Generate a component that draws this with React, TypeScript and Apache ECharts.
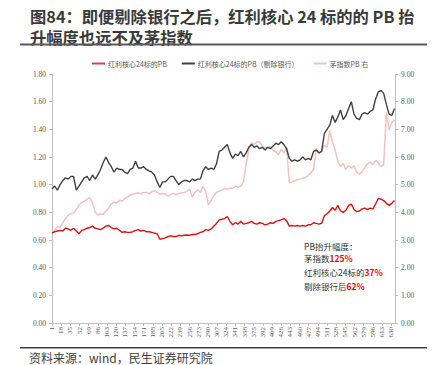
import React, { useEffect, useRef } from "react";
import * as echarts from "echarts";

// Trading-day counter labels (1 .. 637)
const DAY_COUNT = 637;
const dayLabels: string[] = Array.from({ length: DAY_COUNT }, (_, i) => String(i + 1));
// Samples were read every 5 trading days
const SAMPLE_STEP = 5;

// 红利核心24标的PB (left axis)
const redCorePB = [
  0.65, 0.66, 0.665, 0.67, 0.665, 0.685, 0.68, 0.67, 0.685, 0.665,
  0.645, 0.67, 0.675, 0.685, 0.69, 0.70, 0.685, 0.68, 0.675, 0.685,
  0.70, 0.705, 0.69, 0.68, 0.685, 0.67, 0.655, 0.66, 0.655, 0.655,
  0.66, 0.67, 0.675, 0.665, 0.67, 0.66, 0.66, 0.655, 0.65, 0.645,
  0.605, 0.61, 0.615, 0.625, 0.63, 0.625, 0.625, 0.634, 0.63, 0.634,
  0.636, 0.634, 0.64, 0.64, 0.645, 0.655, 0.66, 0.675, 0.67, 0.68,
  0.70, 0.72, 0.745, 0.75, 0.755, 0.77, 0.735, 0.71, 0.725, 0.715,
  0.735, 0.715, 0.72, 0.725, 0.735, 0.72, 0.715, 0.725, 0.72, 0.71,
  0.715, 0.725, 0.72, 0.735, 0.74, 0.745, 0.755, 0.74, 0.70, 0.705,
  0.70, 0.705, 0.70, 0.705, 0.70, 0.71, 0.71, 0.725, 0.72, 0.715,
  0.72, 0.775, 0.79, 0.81, 0.835, 0.815, 0.85, 0.81, 0.80, 0.815,
  0.85, 0.86, 0.82, 0.805, 0.81, 0.825, 0.83, 0.82, 0.83, 0.825,
  0.86, 0.90, 0.895, 0.885, 0.865, 0.85, 0.865, 0.885,
];

// 红利核心24标的PB（剔除银行） (left axis)
const exBankPB = [
  0.97, 0.99, 0.96, 1.00, 1.03, 1.05, 1.04, 1.06, 1.06, 0.96,
  0.99, 1.02, 1.05, 1.06, 1.03, 1.07, 1.04, 1.07, 1.11, 1.16,
  1.20, 1.16, 1.13, 1.09, 1.12, 1.11, 1.11, 1.09, 1.08, 1.11,
  1.12, 1.17, 1.12, 1.12, 1.13, 1.11, 1.10, 1.09, 1.07, 1.02,
  0.98, 1.02, 1.02, 1.04, 1.06, 1.06, 1.03, 1.00, 1.02, 1.03,
  1.03, 1.02, 1.04, 1.03, 1.04, 1.04, 1.10, 1.13, 1.11, 1.12,
  1.11, 1.15, 1.24, 1.25, 1.27, 1.29, 1.23, 1.19, 1.22, 1.21,
  1.24, 1.20, 1.23, 1.27, 1.29, 1.27, 1.28, 1.26, 1.27, 1.25,
  1.27, 1.26, 1.28, 1.30, 1.29, 1.31, 1.29, 1.26, 1.19, 1.17,
  1.18, 1.17, 1.18, 1.20, 1.18, 1.19, 1.18, 1.24, 1.25, 1.23,
  1.24, 1.37, 1.40, 1.43, 1.50, 1.45, 1.49, 1.54, 1.47, 1.50,
  1.55, 1.60, 1.51, 1.48, 1.47, 1.51, 1.52, 1.51, 1.53, 1.54,
  1.62, 1.67, 1.68, 1.66, 1.58, 1.51, 1.50, 1.55,
];

// 茅指数PB (right axis)
const maoIndexPB = [
  3.24, 3.35, 3.48, 3.45, 3.62, 3.78, 3.90, 3.95, 3.98, 4.10,
  4.26, 4.35, 4.40, 4.48, 4.54, 4.35, 4.00, 3.90, 3.95, 3.92,
  4.05, 4.15, 4.30, 4.36, 4.34, 4.44, 4.40, 4.50, 4.55, 4.62,
  4.66, 4.68, 4.70, 4.68, 4.72, 4.72, 4.68, 4.75, 4.78, 4.72,
  4.67, 4.68, 4.66, 4.58, 4.64, 4.68, 4.64, 4.68, 4.70, 4.72,
  4.75, 4.85, 4.55, 4.72, 4.80, 4.72, 4.94, 4.75, 4.26, 4.42,
  4.60, 4.72, 4.76, 4.80, 4.85, 4.84, 4.88, 4.87, 4.95, 4.90,
  4.95, 5.10, 5.75, 6.28, 6.52, 6.45, 6.55, 6.55, 6.38, 6.32,
  6.35, 6.38, 6.25, 6.19, 6.08, 6.28, 6.15, 6.35, 5.08, 5.10,
  5.14, 5.18, 5.20, 5.23, 5.27, 5.33, 5.43, 5.55, 6.30, 6.12,
  6.20, 6.42, 6.35, 6.95, 6.55, 6.25, 5.85, 5.65, 5.77, 5.55,
  5.70, 5.60, 5.68, 5.45, 5.38, 5.48, 5.62, 5.75, 5.82, 5.72,
  5.88, 5.78, 5.66, 5.72, 7.62, 6.98, 7.25, 7.34,
];

const seriesNames = ["红利核心24标的PB", "红利核心24标的PB（剔除银行）", "茅指数PB 右"];
const titleLines = [
  "图84：即便剔除银行之后，红利核心 24 标的的 PB 抬",
  "升幅度也远不及茅指数",
];
const noteHeader = "PB抬升幅度：";
const noteLabels = ["茅指数", "红利核心24标的", "剔除银行后"];
const notePercents = ["125%", "37%", "62%"];
const sourceText = "资料来源：wind，民生证券研究院";

const toPairs = (vals: number[]) => vals.map((v, k) => [k * SAMPLE_STEP, v]);

const AXIS_FONT = "'Liberation Serif', 'Noto Sans CJK SC', serif";
const CJK_FONT = "'Noto Sans CJK SC', sans-serif";

export default function App() {
  const ref = useRef<HTMLDivElement>(null);
  useEffect(() => {
    if (!ref.current) return;
    const chart = echarts.init(ref.current, undefined, { renderer: "svg" });
    const noteTexts = noteLabels.map((lab, i) => ({
      type: "text",
      left: 304,
      top: 254 + i * 14,
      style: {
        text: `{a|${lab}}{b|${notePercents[i]}}`,
        rich: {
          a: { fontSize: 8.5, fill: "#333333", fontFamily: CJK_FONT, lineHeight: 11 },
          b: { fontSize: 8.5, fill: "#ff0000", fontWeight: "bold", fontFamily: CJK_FONT, lineHeight: 11 },
        },
      },
    }));
    chart.setOption({
      animation: false,
      backgroundColor: "#ffffff",
      grid: { left: 52, right: 41, top: 74, bottom: 42, containLabel: false },
      legend: {
        top: 55,
        left: 87,
        itemWidth: 13,
        itemHeight: 2,
        itemGap: 15,
        icon: "rect",
        textStyle: { fontSize: 7, color: "#595959", fontFamily: CJK_FONT, padding: [0, 0, 0, -2] },
        data: seriesNames,
      },
      xAxis: {
        type: "category",
        data: dayLabels,
        boundaryGap: false,
        axisLine: { lineStyle: { color: "#bfbfbf", width: 1 } },
        axisTick: { show: true, interval: 16, length: 3, lineStyle: { color: "#bfbfbf" } },
        axisLabel: {
          interval: 16,
          rotate: 90,
          fontSize: 7,
          color: "#595959",
          fontFamily: AXIS_FONT,
          margin: 4,
        },
        splitLine: { show: false },
      },
      yAxis: [
        {
          type: "value",
          min: 0,
          max: 1.8,
          interval: 0.2,
          axisLine: { show: true, lineStyle: { color: "#bfbfbf" } },
          axisTick: { show: true, length: 3, lineStyle: { color: "#bfbfbf" } },
          axisLabel: {
            fontSize: 7.5,
            color: "#595959",
            fontFamily: AXIS_FONT,
            margin: 6,
            formatter: (v: number) => v.toFixed(2),
          },
          splitLine: { show: false },
        },
        {
          type: "value",
          min: 0,
          max: 9,
          interval: 1,
          position: "right",
          axisLine: { show: true, lineStyle: { color: "#bfbfbf" } },
          axisTick: { show: true, length: 3, lineStyle: { color: "#bfbfbf" } },
          axisLabel: {
            fontSize: 7.5,
            color: "#595959",
            fontFamily: AXIS_FONT,
            margin: 6,
            formatter: (v: number) => v.toFixed(2),
          },
          splitLine: { show: false },
        },
      ],
      series: [
        {
          name: seriesNames[2],
          type: "line",
          yAxisIndex: 1,
          data: toPairs(maoIndexPB),
          showSymbol: false,
          symbol: "none",
          z: 1,
          lineStyle: { color: "#f2c2c0", width: 1.5 },
          itemStyle: { color: "#f2c2c0" },
        },
        {
          name: seriesNames[1],
          type: "line",
          yAxisIndex: 0,
          data: toPairs(exBankPB),
          showSymbol: false,
          symbol: "none",
          z: 2,
          lineStyle: { color: "#404040", width: 1.4 },
          itemStyle: { color: "#404040" },
        },
        {
          name: seriesNames[0],
          type: "line",
          yAxisIndex: 0,
          data: toPairs(redCorePB),
          showSymbol: false,
          symbol: "none",
          z: 3,
          lineStyle: { color: "#e01010", width: 1.4 },
          itemStyle: { color: "#e04040" },
        },
      ],
      graphic: [
        {
          type: "text",
          left: 30,
          top: 6,
          style: {
            text: titleLines.join("\n"),
            fontSize: 16.3,
            lineHeight: 20.5,
            fontWeight: "bold",
            fill: "#3a3a3a",
            fontFamily: CJK_FONT,
          },
        },
        {
          type: "rect",
          shape: { x: 20, y: 43.5, width: 407, height: 2 },
          style: { fill: "#595959" },
        },
        {
          type: "text",
          left: 304,
          top: 240,
          style: { text: noteHeader, fontSize: 8.5, lineHeight: 11, fill: "#333333", fontFamily: CJK_FONT },
        },
        ...noteTexts,
        {
          type: "rect",
          shape: { x: 20, y: 347, width: 407, height: 1.5 },
          style: { fill: "#404040" },
        },
        {
          type: "text",
          left: 29,
          top: 351,
          style: { text: sourceText, fontSize: 12, lineHeight: 13, fill: "#404040", fontFamily: CJK_FONT },
        },
      ],
    });
    return () => chart.dispose();
  }, []);
  return (
    <div
      ref={ref}
      style={{ position: "fixed", left: 0, top: 0, width: 436, height: 365 }}
    />
  );
}
